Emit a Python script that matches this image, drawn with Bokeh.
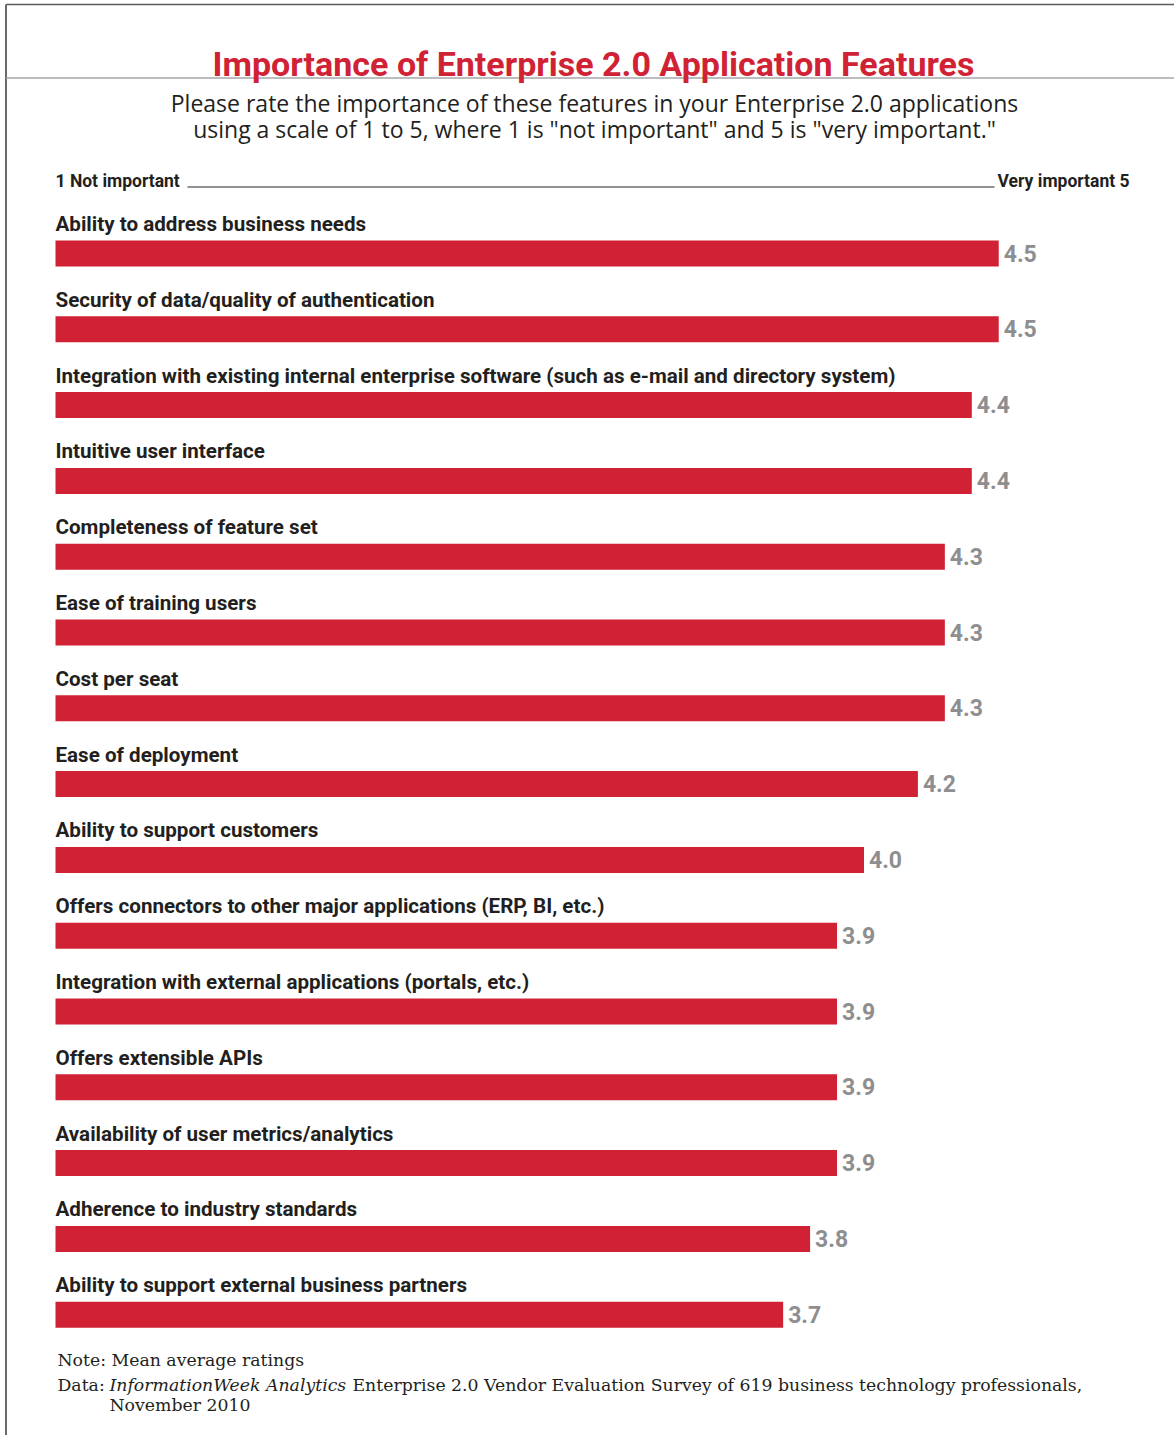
from bokeh.plotting import figure
from bokeh.models import Range1d, Label
from bokeh.core.properties import value
from bokeh.embed import file_html
from bokeh.resources import INLINE

categories = [
    "Ability to address business needs",
    "Security of data/quality of authentication",
    "Integration with existing internal enterprise software (such as e-mail and directory system)",
    "Intuitive user interface",
    "Completeness of feature set",
    "Ease of training users",
    "Cost per seat",
    "Ease of deployment",
    "Ability to support customers",
    "Offers connectors to other major applications (ERP, BI, etc.)",
    "Integration with external applications (portals, etc.)",
    "Offers extensible APIs",
    "Availability of user metrics/analytics",
    "Adherence to industry standards",
    "Ability to support external business partners",
]
ratings = [4.5, 4.5, 4.4, 4.4, 4.3, 4.3, 4.3, 4.2, 4.0, 3.9, 3.9, 3.9, 3.9, 3.8, 3.7]
scale_min, scale_max = 1, 5
scale_labels = ["1 Not important", "Very important 5"]

W, H = 1174, 1435
X0, XS = 55.0, 269.5      # px of scale_min, px per rating unit
Y0, YS = 253.0, 75.8      # px of first bar centre, px per row
K = 0.4                   # empirical baseline correction (fraction of font size)


def xv(px):
    return scale_min + (px - X0) / XS


def yv(px):
    return (px - Y0) / YS


def yb(px, fs):
    """data y for a text whose alphabetic baseline should sit at px"""
    return yv(px - K * fs)


SANS = "Roboto"
RED = "#d12235"
DARK = "#231f20"
GREY = "#8e8e90"

p = figure(width=W, height=H, output_backend="svg", toolbar_location=None,
           x_range=Range1d(xv(0), xv(W)), y_range=Range1d(yv(H), yv(0)),
           min_border=0, outline_line_color=None)
p.axis.visible = False
p.grid.visible = False
p.background_fill_color = "white"
p.border_fill_color = "white"

# frame lines
p.segment(x0=[xv(5.5), xv(5.5), xv(6)], y0=[yv(4), yv(4), yv(77.5)],
          x1=[xv(W), xv(5.5), xv(W)], y1=[yv(4), yv(H), yv(77.5)],
          line_color=["#5a5a5a", "#6a6a6a", "#bcbcbe"], line_width=[1.6, 2, 2])

# title and subtitle
TFS, SFS = 34, 23
p.add_layout(Label(x=xv(593), y=yb(77, TFS), text="Importance of Enterprise 2.0 Application Features",
                   text_font=SANS, text_font_style="bold", text_font_size=f"{TFS}px",
                   text_color=RED, text_align="center", text_baseline="alphabetic"))
p.add_layout(Label(x=xv(594), y=yb(111.5, SFS), text="Please rate the importance of these features in your Enterprise 2.0 applications",
                   text_font="Open Sans", text_font_size=f"{SFS}px",
                   text_color=DARK, text_align="center", text_baseline="alphabetic"))
p.add_layout(Label(x=xv(594), y=yb(137.5, SFS), text='using a scale of 1 to 5, where 1 is "not important" and 5 is "very important."',
                   text_font="Open Sans", text_font_size=f"{SFS}px",
                   text_color=DARK, text_align="center", text_baseline="alphabetic"))

# scale header
HFS = 17.5
p.text(x=[scale_min, scale_max], y=[yb(187, HFS)] * 2, text=scale_labels,
       x_offset=[0, -4],
       text_font=value(SANS), text_font_style="bold", text_font_size=f"{HFS}px",
       text_color=DARK, text_align=["left", "right"], text_baseline="alphabetic")
p.segment(x0=[xv(187)], y0=[yv(186.5)], x1=[xv(994)], y1=[yv(186.5)],
          line_color="#6e6e70", line_width=1.4)

idx = list(range(len(categories)))

# bars
p.hbar(y=idx, left=scale_min, right=ratings, height=26 / YS,
       fill_color=RED, line_color=None)

# category labels
LFS = 20.6
p.text(x=[scale_min] * len(idx), y=[i - (21.3 + K * LFS) / YS for i in idx], text=categories,
       text_font=value(SANS), text_font_style="bold", text_font_size=f"{LFS}px",
       text_color=DARK, text_align="left", text_baseline="alphabetic")

# value labels
VFS = 23
p.text(x=ratings, y=[i + (8.7 - K * VFS) / YS for i in idx], text=[f"{v:.1f}" for v in ratings],
       x_offset=5,
       text_font=value(SANS), text_font_style="bold", text_font_size=f"{VFS}px",
       text_color=GREY, text_align="left", text_baseline="alphabetic")

# notes
SERIF = "DejaVu Serif"
NFS = 17.3
note_kw = dict(text_font=SERIF, text_font_size=f"{NFS}px", text_color=DARK, text_baseline="alphabetic")
p.add_layout(Label(x=xv(57), y=yb(1366, NFS), text="Note: Mean average ratings", **note_kw))
p.add_layout(Label(x=xv(57), y=yb(1391, NFS), text="Data:", **note_kw))
p.add_layout(Label(x=xv(109), y=yb(1391, NFS), text="InformationWeek Analytics",
                   text_font_style="italic", **note_kw))
p.add_layout(Label(x=xv(352), y=yb(1391, NFS),
                   text="Enterprise 2.0 Vendor Evaluation Survey of 619 business technology professionals,",
                   **note_kw))
p.add_layout(Label(x=xv(109), y=yb(1411, NFS), text="November 2010", **note_kw))

open("out.html", "w").write(file_html(p, INLINE))
